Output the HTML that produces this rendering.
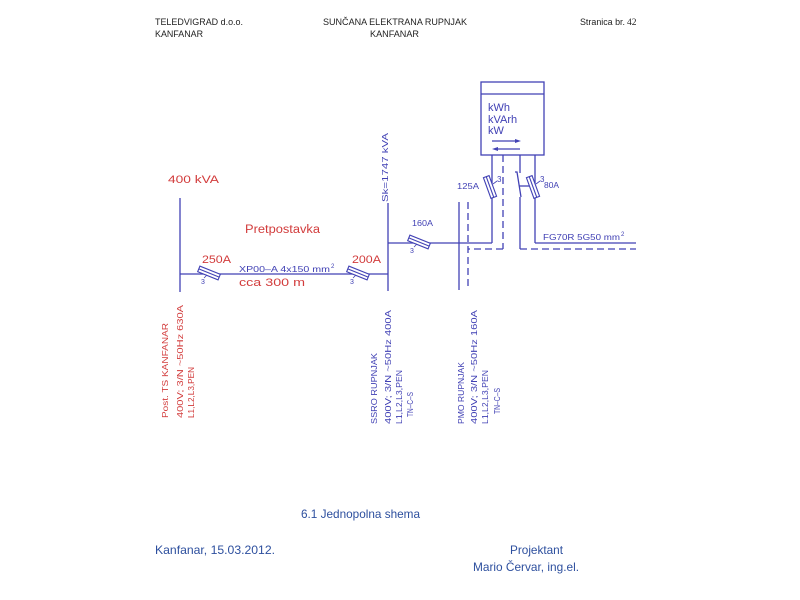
<!DOCTYPE html>
<html>
<head>
<meta charset="utf-8">
<style>
html,body{margin:0;padding:0;background:#fff;}
svg{display:block;}
.h{font-family:"Liberation Sans",sans-serif;font-size:9px;fill:#222;}
.f{font-family:"Liberation Sans",sans-serif;font-size:12px;fill:#2d4f9e;}
.r{font-family:"Liberation Sans",sans-serif;fill:#d23c3c;}
.b{font-family:"Liberation Sans",sans-serif;fill:#4040b4;}
</style>
</head>
<body>
<svg width="800" height="600" viewBox="0 0 800 600" xmlns="http://www.w3.org/2000/svg">
<rect width="800" height="600" fill="#fff"/>

<!-- header -->
<text class="h" x="155" y="25" textLength="88" lengthAdjust="spacingAndGlyphs">TELEDVIGRAD d.o.o.</text>
<text class="h" x="155" y="37" textLength="48" lengthAdjust="spacingAndGlyphs">KANFANAR</text>
<text class="h" x="323" y="25" textLength="144" lengthAdjust="spacingAndGlyphs">SUNČANA ELEKTRANA RUPNJAK</text>
<text class="h" x="370" y="37" textLength="49" lengthAdjust="spacingAndGlyphs">KANFANAR</text>
<text class="h" x="580" y="25" textLength="45" lengthAdjust="spacingAndGlyphs">Stranica br.</text>
<text x="627" y="25" style="font-family:'Liberation Serif',serif;font-size:9.5px;fill:#222;">42</text>

<g stroke="#4242b5" stroke-width="1.3" fill="none">
  <line x1="180" y1="198" x2="180" y2="292"/>
  <line x1="180" y1="274" x2="388" y2="274"/>
  <line x1="388" y1="203" x2="388" y2="291"/>
  <line x1="388" y1="243" x2="492" y2="243"/>
  <line x1="459" y1="202" x2="459" y2="290"/>
  <line x1="468" y1="202" x2="468" y2="290" stroke-dasharray="7 4"/>
  <rect x="481" y="82" width="63" height="73"/>
  <line x1="481" y1="94" x2="544" y2="94"/>
  <line x1="492" y1="141" x2="518" y2="141"/>
  <line x1="496" y1="149" x2="520" y2="149"/>
  <line x1="492" y1="155" x2="492" y2="243"/>
  <line x1="503" y1="155" x2="503" y2="249" stroke-dasharray="7 4"/>
  <line x1="503" y1="249" x2="468" y2="249" stroke-dasharray="7 4"/>
  <line x1="520" y1="155" x2="520" y2="173"/>
  <polyline points="515,172 517,172 521,197"/>
  <line x1="520" y1="197" x2="520" y2="249"/>
  <line x1="520" y1="249" x2="636" y2="249" stroke-dasharray="7 4"/>
  <line x1="519" y1="186" x2="531" y2="186"/>
  <line x1="535" y1="155" x2="535" y2="243"/>
  <line x1="535" y1="243" x2="636" y2="243"/>
</g>
<polygon points="521,141 515,139 515,143" fill="#4242b5"/>
<polygon points="492,149 498,147 498,151" fill="#4242b5"/>

<g stroke="#4242b5" stroke-width="1.1" fill="#fff">
  <g transform="translate(209,273) rotate(22)"><rect x="-11" y="-3" width="22" height="6"/><line x1="-11" y1="0" x2="11" y2="0"/></g>
  <g transform="translate(358,273) rotate(22)"><rect x="-11" y="-3" width="22" height="6"/><line x1="-11" y1="0" x2="11" y2="0"/></g>
  <g transform="translate(419,242) rotate(22)"><rect x="-11" y="-3" width="22" height="6"/><line x1="-11" y1="0" x2="11" y2="0"/></g>
  <g transform="translate(490,187) rotate(-20)"><rect x="-3" y="-11" width="6" height="22"/><line x1="0" y1="-11" x2="0" y2="11"/></g>
  <g transform="translate(533,187) rotate(-20)"><rect x="-3" y="-11" width="6" height="22"/><line x1="0" y1="-11" x2="0" y2="11"/></g>
</g>
<g stroke="#4242b5" stroke-width="0.8">
  <line x1="204" y1="278" x2="207" y2="275"/>
  <line x1="353" y1="278" x2="356" y2="275"/>
  <line x1="414" y1="247" x2="417" y2="244"/>
  <line x1="493" y1="184" x2="497" y2="181"/>
  <line x1="536" y1="184" x2="540" y2="181"/>
</g>
<g class="b" style="font-size:7px;">
  <text x="201" y="284" class="b">3</text>
  <text x="350" y="284" class="b">3</text>
  <text x="410" y="253" class="b">3</text>
  <text x="497" y="182" class="b" style="font-size:8px">3</text>
  <text x="540" y="182" class="b" style="font-size:8px">3</text>
</g>

<text class="r" x="168" y="183" style="font-size:11px" textLength="51" lengthAdjust="spacingAndGlyphs">400 kVA</text>
<text class="r" x="245" y="233" style="font-size:11.5px" textLength="75" lengthAdjust="spacingAndGlyphs">Pretpostavka</text>
<text class="r" x="202" y="263" style="font-size:11px" textLength="29" lengthAdjust="spacingAndGlyphs">250A</text>
<text class="r" x="352" y="263" style="font-size:11px" textLength="29" lengthAdjust="spacingAndGlyphs">200A</text>
<text class="b" x="239" y="272" style="font-size:8.5px" textLength="91" lengthAdjust="spacingAndGlyphs">XP00–A  4x150  mm</text>
<text class="b" x="331" y="268" style="font-size:6px">2</text>
<text class="r" x="239" y="286" style="font-size:11px" textLength="66" lengthAdjust="spacingAndGlyphs">cca  300  m</text>
<text class="b" x="412" y="226" style="font-size:8.5px" textLength="21" lengthAdjust="spacingAndGlyphs">160A</text>
<text class="b" x="457" y="189" style="font-size:8.5px" textLength="22" lengthAdjust="spacingAndGlyphs">125A</text>
<text class="b" x="544" y="188" style="font-size:8.5px" textLength="15" lengthAdjust="spacingAndGlyphs">80A</text>
<text class="b" x="543" y="240" style="font-size:8.5px" textLength="77" lengthAdjust="spacingAndGlyphs">FG70R  5G50  mm</text>
<text class="b" x="621" y="236" style="font-size:6px">2</text>
<text class="b" x="488" y="111" style="font-size:11px">kWh</text>
<text class="b" x="488" y="123" style="font-size:11px">kVArh</text>
<text class="b" x="488" y="134" style="font-size:11px">kW</text>
<text class="b" transform="translate(388,202) rotate(-90)" style="font-size:8.5px" textLength="69" lengthAdjust="spacingAndGlyphs">Sk=1747 kVA</text>

<g style="font-size:8.5px">
<text class="r" transform="translate(168,418) rotate(-90)" textLength="95" lengthAdjust="spacingAndGlyphs">Post.  TS  KANFANAR</text>
<text class="r" transform="translate(183,418) rotate(-90)" textLength="113" lengthAdjust="spacingAndGlyphs">400V;  3/N  ~50Hz  630A</text>
<text class="r" transform="translate(194,418) rotate(-90)" textLength="51" lengthAdjust="spacingAndGlyphs">L1,L2,L3,PEN</text>

<text class="b" transform="translate(377,424) rotate(-90)" textLength="71" lengthAdjust="spacingAndGlyphs">SSRO  RUPNJAK</text>
<text class="b" transform="translate(391,424) rotate(-90)" textLength="114" lengthAdjust="spacingAndGlyphs">400V;  3/N  ~50Hz  400A</text>
<text class="b" transform="translate(402,424) rotate(-90)" textLength="54" lengthAdjust="spacingAndGlyphs">L1,L2,L3,PEN</text>
<text class="b" transform="translate(413,417) rotate(-90)" textLength="25" lengthAdjust="spacingAndGlyphs">TN–C–S</text>

<text class="b" transform="translate(464,424) rotate(-90)" textLength="62" lengthAdjust="spacingAndGlyphs">PMO  RUPNJAK</text>
<text class="b" transform="translate(477,424) rotate(-90)" textLength="114" lengthAdjust="spacingAndGlyphs">400V;  3/N  ~50Hz  160A</text>
<text class="b" transform="translate(488,424) rotate(-90)" textLength="54" lengthAdjust="spacingAndGlyphs">L1,L2,L3,PEN</text>
<text class="b" transform="translate(500,414) rotate(-90)" textLength="26" lengthAdjust="spacingAndGlyphs">TN–C–S</text>
</g>

<text class="f" x="301" y="518" textLength="119" lengthAdjust="spacingAndGlyphs">6.1 Jednopolna shema</text>
<text class="f" x="155" y="554" textLength="120" lengthAdjust="spacingAndGlyphs">Kanfanar,  15.03.2012.</text>
<text class="f" x="510" y="554" textLength="53" lengthAdjust="spacingAndGlyphs">Projektant</text>
<text class="f" x="473" y="571" textLength="106" lengthAdjust="spacingAndGlyphs">Mario Červar, ing.el.</text>
</svg>
</body>
</html>
